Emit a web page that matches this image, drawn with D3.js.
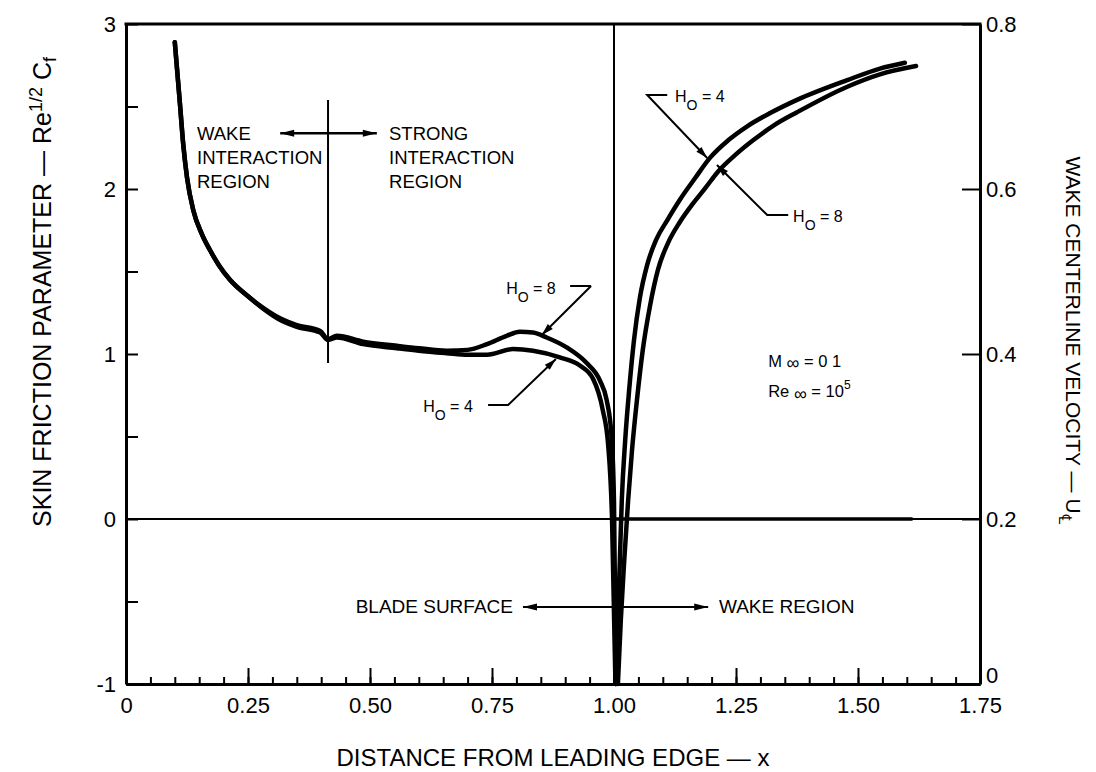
<!DOCTYPE html>
<html><head><meta charset="utf-8">
<script src="https://cdn.jsdelivr.net/npm/d3@7"></script>
<style>
body{margin:0;background:#fff}
svg{display:block}
text{font-family:"Liberation Sans",Arial,Helvetica,sans-serif;fill:#000}
</style>
</head><body>
<svg id="c" width="1096" height="772"></svg>
<script>
// ---------- data ----------
// Skin friction parameter on blade surface (left axis)
const sfH8_x = [0.100,0.111,0.117,0.125,0.138,0.155,0.172,0.190,0.213,0.250,0.281,0.320,0.350,0.398,0.414,0.432,0.486,0.555,0.600,0.657,0.700,0.740,0.780,0.807,0.834,0.862,0.903,0.944,0.971,0.985,0.995,1.000,1.004];
const sfH8_v = [2.89,2.50,2.28,2.07,1.87,1.73,1.63,1.54,1.45,1.35,1.28,1.21,1.175,1.14,1.09,1.11,1.075,1.05,1.035,1.02,1.025,1.06,1.11,1.135,1.13,1.10,1.04,0.945,0.84,0.72,0.50,0.10,-1.0];
const sfH4_x = [0.100,0.111,0.117,0.125,0.138,0.155,0.172,0.190,0.213,0.250,0.281,0.320,0.350,0.398,0.414,0.432,0.486,0.555,0.600,0.657,0.700,0.740,0.793,0.834,0.889,0.930,0.957,0.977,0.988,0.996,1.003];
const sfH4_v = [2.89,2.50,2.28,2.07,1.87,1.73,1.63,1.54,1.45,1.35,1.275,1.20,1.165,1.13,1.085,1.10,1.06,1.035,1.02,1.005,0.995,0.995,1.03,1.02,0.98,0.93,0.85,0.66,0.45,0.0,-1.0];
// Skin friction in the wake (zero)
const sfWake_x = [1.0,1.61];
const sfWake_v = [0,0];
// Wake centerline velocity (right axis)
const uH4_x = [1.004,1.008,1.012,1.016,1.023,1.031,1.041,1.053,1.068,1.086,1.109,1.135,1.166,1.197,1.234,1.273,1.320,1.375,1.478,1.545,1.596];
const uH4_v = [0.000,0.078,0.150,0.223,0.296,0.356,0.417,0.468,0.508,0.538,0.562,0.587,0.613,0.638,0.659,0.676,0.692,0.708,0.732,0.746,0.753];
const uH8_x = [1.008,1.014,1.021,1.029,1.037,1.047,1.059,1.074,1.090,1.111,1.135,1.160,1.187,1.213,1.248,1.285,1.330,1.375,1.478,1.545,1.619];
const uH8_v = [0.000,0.078,0.150,0.223,0.284,0.344,0.405,0.459,0.502,0.535,0.560,0.581,0.601,0.621,0.641,0.659,0.678,0.693,0.724,0.739,0.749];

// ticks
const leftTickValues = [-1,-0.5,0,0.5,1,1.5,2,2.5,3];
const leftTickLabels = ["-1","","0","","1","","2","","3"];
const rightTickValues = [0,0.2,0.4,0.6,0.8];
const rightTickLabels = ["0","0.2","0.4","0.6","0.8"];
const bottomMajorValues = [0,0.25,0.5,0.75,1,1.25,1.5,1.75];
const bottomMajorLabels = ["0","0.25","0.50","0.75","1.00","1.25","1.50","1.75"];
const bottomMinorValues = d3.range(36).map(i => i*0.05);

// ---------- scales ----------
const svg = d3.select("#c");
const x = d3.scaleLinear().domain([0,1.75]).range([126,980]);
const y = d3.scaleLinear().domain([-1,3]).range([684,24]);
const yR = d3.scaleLinear().domain([0,0.8]).range([684,24]);

// ---------- axes ----------
function styleAxis(g, fs){
  g.selectAll("path.domain").attr("stroke","#000").attr("stroke-width",3);
  g.selectAll(".tick line").attr("stroke","#000").attr("stroke-width",2);
  g.selectAll(".tick text").attr("font-size",fs).attr("fill","#000")
   .attr("font-family",'"Liberation Sans",Arial,sans-serif');
}
const gMinor = svg.append("g").attr("transform",`translate(0,${y(-1)})`)
  .call(d3.axisBottom(x).tickValues(bottomMinorValues).tickSizeInner(-7).tickSizeOuter(0).tickFormat(""));
styleAxis(gMinor,22);
const gBottom = svg.append("g").attr("transform",`translate(0,${y(-1)})`)
  .call(d3.axisBottom(x).tickValues(bottomMajorValues).tickSizeInner(-16).tickSizeOuter(0).tickPadding(13)
    .tickFormat((d,i)=>bottomMajorLabels[i]));
styleAxis(gBottom,22);
const gLeft = svg.append("g").attr("transform",`translate(${x(0)},0)`)
  .call(d3.axisLeft(y).tickValues(leftTickValues).tickSizeInner(-12).tickSizeOuter(0).tickPadding(10)
    .tickFormat((d,i)=>leftTickLabels[i]));
styleAxis(gLeft,22);
const gRight = svg.append("g").attr("transform",`translate(${x(1.75)},0)`)
  .call(d3.axisRight(yR).tickValues(rightTickValues).tickSizeInner(-18).tickSizeOuter(0).tickPadding(6)
    .tickFormat((d,i)=>rightTickLabels[i]));
styleAxis(gRight,22);
gRight.selectAll(".tick text").filter(d=>d===0).attr("dy","-0.05em");
// top frame
svg.append("line").attr("x1",x(0)).attr("x2",x(1.75)).attr("y1",y(3)).attr("y2",y(3))
  .attr("stroke","#000").attr("stroke-width",3).attr("stroke-linecap","square");

// reference lines
svg.append("line").attr("x1",x(0)).attr("x2",x(1.75)).attr("y1",y(0)).attr("y2",y(0))
  .attr("stroke","#000").attr("stroke-width",2);
svg.append("line").attr("x1",x(1)).attr("x2",x(1)).attr("y1",y(3)).attr("y2",y(-1))
  .attr("stroke","#000").attr("stroke-width",2);

// ---------- curves ----------
const zip = (a,b) => a.map((v,i)=>[v,b[i]]);
const lineL = d3.line().x(d=>x(d[0])).y(d=>y(d[1])).curve(d3.curveMonotoneX);
const lineR = d3.line().x(d=>x(d[0])).y(d=>yR(d[1])).curve(d3.curveMonotoneX);
const curves = svg.append("g").attr("fill","none").attr("stroke","#000").attr("stroke-linejoin","round").attr("stroke-linecap","round");
curves.append("path").attr("d",lineL(zip(sfH4_x,sfH4_v))).attr("stroke-width",4.5);
curves.append("path").attr("d",lineL(zip(sfH8_x,sfH8_v))).attr("stroke-width",4.5);
curves.append("path").attr("d",lineL(zip(sfWake_x,sfWake_v))).attr("stroke-width",3.5);
curves.append("path").attr("d",lineR(zip(uH4_x,uH4_v))).attr("stroke-width",4.5);
curves.append("path").attr("d",lineR(zip(uH8_x,uH8_v))).attr("stroke-width",4.5);

// ---------- annotations ----------
const ann = svg.append("g");
function seg(pts, w){
  ann.append("path").attr("d",d3.line()(pts.map(p=>[x(p[0]),y(p[1])])))
    .attr("fill","none").attr("stroke","#000").attr("stroke-width",w||2);
}
function head(from, to, len, half){
  const x1=x(from[0]),y1=y(from[1]),x2=x(to[0]),y2=y(to[1]);
  const dx=x2-x1, dy=y2-y1, L=Math.hypot(dx,dy), ux=dx/L, uy=dy/L;
  const bx=x2-ux*len, by=y2-uy*len, nx=-uy, ny=ux;
  ann.append("path").attr("d",`M${x2},${y2}L${bx+nx*half},${by+ny*half}L${bx-nx*half},${by-ny*half}Z`).attr("fill","#000");
}
function txt(px,py,s,fs,anchor){
  return ann.append("text").attr("x",x(px)).attr("y",y(py)).attr("font-size",fs).attr("text-anchor",anchor||"start").text(s);
}
// wake / strong interaction
seg([[0.414,2.539],[0.414,0.945]],2);
seg([[0.316,2.338],[0.514,2.338]],2.5);
head([0.40,2.338],[0.316,2.338],14,3.5);
head([0.43,2.338],[0.514,2.338],14,3.5);
txt(0.1455,2.297,"WAKE",18.5); txt(0.1455,2.152,"INTERACTION",18.5); txt(0.1455,2.006,"REGION",18.5);
txt(0.539,2.297,"STRONG",18.5); txt(0.539,2.152,"INTERACTION",18.5); txt(0.539,2.006,"REGION",18.5);
// blade surface / wake region
seg([[0.8135,-0.533],[1.193,-0.533]],2);
head([0.9,-0.533],[0.8135,-0.533],14,3.5);
head([1.1,-0.533],[1.193,-0.533],14,3.5);
txt(0.793,-0.570,"BLADE SURFACE",19,"end");
txt(1.215,-0.570,"WAKE REGION",19);

function hLabel(px,py,val){
  const t = txt(px,py,"",16);
  t.append("tspan").text("H");
  t.append("tspan").attr("font-size",14).attr("dy",8).text("O");
  t.append("tspan").attr("dy",-8).text(" = "+val);
}
hLabel(0.779,1.364,"8");
seg([[0.953,1.412],[0.910,1.412]],2); seg([[0.953,1.412],[0.852,1.115]],2);
head([0.953,1.412],[0.852,1.115],12,3.5);
hLabel(0.609,0.648,"4");
seg([[0.742,0.691],[0.783,0.691],[0.881,0.970]],2);
head([0.783,0.691],[0.881,0.970],12,3.5);
hLabel(1.125,2.527,"4");
seg([[1.109,2.570],[1.068,2.570],[1.191,2.188]],2);
head([1.068,2.570],[1.191,2.188],12,3.5);
hLabel(1.367,1.80,"8");
seg([[1.357,1.842],[1.314,1.842],[1.211,2.145]],2);
head([1.314,1.842],[1.211,2.145],12,3.5);

// flow conditions
const m = txt(1.316,0.921,"",16.5);
m.append("tspan").text("M ");
m.append("tspan").attr("font-size",18).attr("dy",2).text("∞");
m.append("tspan").attr("dy",-2).text(" = 0 1");
const r = txt(1.316,0.739,"",16.5);
r.append("tspan").text("Re ");
r.append("tspan").attr("font-size",18).attr("dy",3).text("∞");
r.append("tspan").attr("dy",-3).text("  = 10");
r.append("tspan").attr("font-size",12).attr("dy",-8).text("5");

// ---------- axis titles ----------
svg.append("text").attr("x",(x(0)+x(1.75))/2).attr("y",766).attr("text-anchor","middle").attr("font-size",24)
  .text("DISTANCE FROM LEADING EDGE — x");
const lt = svg.append("text").attr("transform","translate(51,292) rotate(-90)").attr("text-anchor","middle").attr("font-size",25);
lt.append("tspan").text("SKIN FRICTION PARAMETER — Re");
lt.append("tspan").attr("font-size",18).attr("dy",-9).text("1/2");
lt.append("tspan").attr("dy",9).text(" C");
lt.append("tspan").attr("font-size",18).attr("dy",5).text("f");
const rt = svg.append("text").attr("transform","translate(1066,340) rotate(90)").attr("text-anchor","middle").attr("font-size",21);
rt.append("tspan").text("WAKE CENTERLINE VELOCITY — U");
rt.append("tspan").attr("font-size",18).attr("dy",7).text("℄");
</script>
</body></html>
